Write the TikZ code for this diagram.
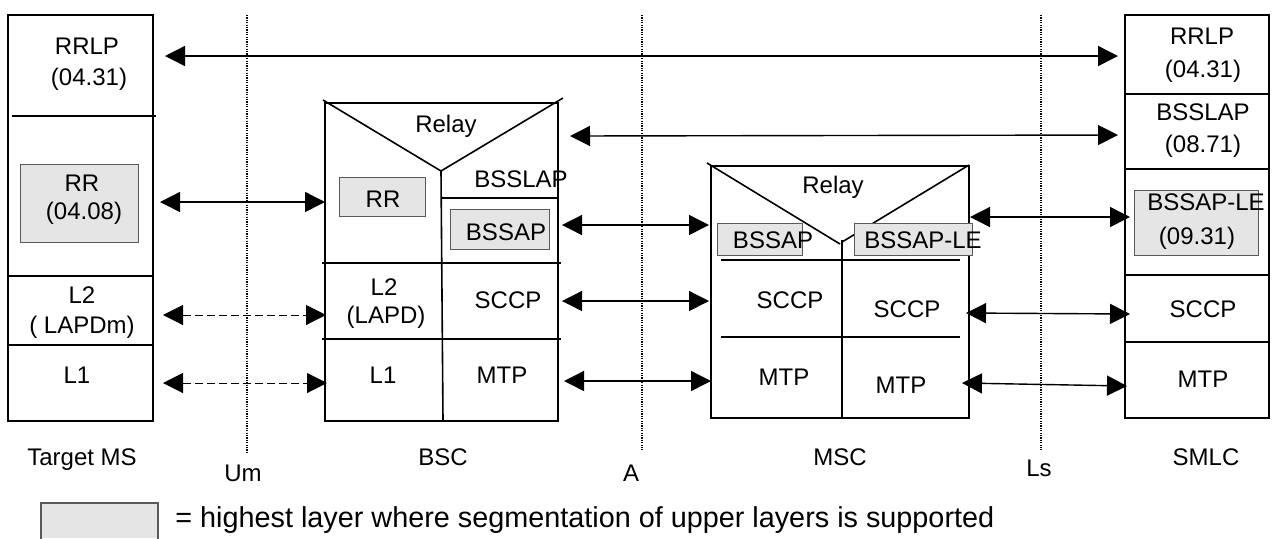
\documentclass[tikz,border=0pt]{standalone}
\usepackage{fontspec}
\setmainfont{Liberation Sans}
\usetikzlibrary{arrows.meta}
\begin{document}
\begin{tikzpicture}[x=0.5pt,y=-0.5pt,
  font=\fontsize{12pt}{14pt}\selectfont,
  lbl/.style={inner sep=0pt,anchor=base},
  frame/.style={draw,line width=0.8pt},
  seg/.style={fill=black!10,draw=black!65,line width=0.5pt},
  link/.style={line width=0.7pt,{Triangle[length=10pt,width=10pt]}-{Triangle[length=10pt,width=10pt]}},
  dlink/.style={link,line width=0.5pt,dash pattern=on 4pt off 2pt},
  iface/.style={line width=0.8pt,dash pattern=on 0.6pt off 0.6pt}]
\useasboundingbox (0,0) rectangle (1273,538);

% interface lines
\coordinate (um-t) at (247,15); \coordinate (um-b) at (247,453);
\coordinate (a-t) at (642,15);  \coordinate (a-b) at (642,450);
\coordinate (ls-t) at (1041,15); \coordinate (ls-b) at (1041,450);
\draw[iface] (um-t) -- (um-b);
\draw[iface] (a-t) -- (a-b);
\draw[iface] (ls-t) -- (ls-b);

% Target MS
\draw[frame] (8,15) rectangle (153,421);
\draw[frame] (12,116) -- (156,116);
\draw[frame] (8,276) -- (153,276);
\draw[frame] (8,345) -- (153,345);
\draw[seg] (20,164) rectangle (138,242);
\node[lbl] (ms-rrlp) at (87,54) {RRLP};
\node[lbl] (ms-rrlpn) at (89,85) {(04.31)};
\node[lbl] (ms-rr) at (82,191) {RR};
\node[lbl] (ms-rrn) at (84,219) {(04.08)};
\node[lbl] (ms-l2) at (82,303) {L2};
\node[lbl] (ms-l2n) at (82,333) {( LAPDm)};
\node[lbl] (ms-l1) at (77,383) {L1};

% BSC
\draw[frame] (325,103) -- (325,421) -- (558,421) -- (558,103) -- cycle;
\draw[frame] (323,100) -- (441,171) -- (563,98);
\draw[frame] (441,171) -- (443,421);
\draw[frame] (442,198) -- (558,198);
\draw[frame] (322,263) -- (561,263);
\draw[frame] (322,339) -- (561,339);
\draw[seg] (339,177) rectangle (425,216);
\draw[seg] (450,209) rectangle (549,249);
\node[lbl] (bsc-relay) at (446,132) {Relay};
\node[lbl] (bsc-bsslap) at (521,187) {BSSLAP};
\node[lbl] (bsc-rr) at (383,207) {RR};
\node[lbl] (bsc-bssap) at (506,240) {BSSAP};
\node[lbl] (bsc-l2) at (384,295) {L2};
\node[lbl] (bsc-l2n) at (386,323) {(LAPD)};
\node[lbl] (bsc-sccp) at (508,308) {SCCP};
\node[lbl] (bsc-l1) at (383,383) {L1};
\node[lbl] (bsc-mtp) at (502,383) {MTP};

% MSC
\draw[frame] (711,166) rectangle (969,418);
\draw[frame] (707,163) -- (840,244);
\draw[frame] (842,242) -- (969,165);
\draw[frame] (842,240) -- (842,418);
\draw[frame] (721,260) -- (960,260);
\draw[frame] (721,337) -- (960,337);
\draw[seg] (717,223) rectangle (802,255);
\draw[seg] (854,223) rectangle (972,255);
\node[lbl] (msc-relay) at (833,193) {Relay};
\node[lbl] (msc-bssap) at (773,248) {BSSAP};
\node[lbl] (msc-bssaple) at (923,248) {BSSAP-LE};
\node[lbl] (msc-sccp1) at (790,308) {SCCP};
\node[lbl] (msc-sccp2) at (907,317) {SCCP};
\node[lbl] (msc-mtp1) at (784,385) {MTP};
\node[lbl] (msc-mtp2) at (901,393) {MTP};

% SMLC
\draw[frame] (1125,15) rectangle (1269,418);
\draw[frame] (1125,94) -- (1269,94);
\draw[frame] (1125,169) -- (1269,169);
\draw[frame] (1125,275) -- (1269,275);
\draw[frame] (1125,342) -- (1269,342);
\draw[seg] (1134,190) rectangle (1258,255);
\node[lbl] (sm-rrlp) at (1202,44) {RRLP};
\node[lbl] (sm-rrlpn) at (1203,77) {(04.31)};
\node[lbl] (sm-bsslap) at (1203,120) {BSSLAP};
\node[lbl] (sm-bsslapn) at (1203,152) {(08.71)};
\node[lbl] (sm-bssaple) at (1206,210) {BSSAP-LE};
\node[lbl] (sm-bssaplen) at (1197,244) {(09.31)};
\node[lbl] (sm-sccp) at (1203,317) {SCCP};
\node[lbl] (sm-mtp) at (1203,387) {MTP};

% connectors
\coordinate (c1a) at (165,56);  \coordinate (c1b) at (1118,56);
\coordinate (c2a) at (160,202); \coordinate (c2b) at (325,202);
\coordinate (c3a) at (163,315); \coordinate (c3b) at (326,315);
\coordinate (c4a) at (163,383); \coordinate (c4b) at (327,383);
\coordinate (c5a) at (570,136); \coordinate (c5b) at (1118,135);
\coordinate (c6a) at (562,225); \coordinate (c6b) at (709,225);
\coordinate (c7a) at (562,301); \coordinate (c7b) at (709,301);
\coordinate (c8a) at (564,381); \coordinate (c8b) at (711,381);
\coordinate (c9a) at (970,217); \coordinate (c9b) at (1130,217);
\coordinate (c10a) at (966,313); \coordinate (c10b) at (1130,314);
\coordinate (c11a) at (962,383); \coordinate (c11b) at (1127,386);
\draw[link] (c1a) -- (c1b);
\draw[link] (c2a) -- (c2b);
\draw[dlink] (c3a) -- (c3b);
\draw[dlink] (c4a) -- (c4b);
\draw[link] (c5a) -- (c5b);
\draw[link] (c6a) -- (c6b);
\draw[link] (c7a) -- (c7b);
\draw[link] (c8a) -- (c8b);
\draw[link] (c9a) -- (c9b);
\draw[link] (c10a) -- (c10b);
\draw[link] (c11a) -- (c11b);

% bottom labels
\node[lbl] (l-ms) at (82,465) {Target MS};
\node[lbl] (l-um) at (243,481) {Um};
\node[lbl] (l-bsc) at (443,465) {BSC};
\node[lbl] (l-a) at (631,481) {A};
\node[lbl] (l-msc) at (840,465) {MSC};
\node[lbl] (l-ls) at (1039,476) {Ls};
\node[lbl] (l-smlc) at (1206,465) {SMLC};

% legend
\fill[black!10] (41,503) rectangle (158,538);
\draw[black!65,line width=0.6pt] (41,540) -- (41,503) -- (158,503) -- (158,540);
\node[lbl,anchor=base west,font=\fontsize{14.4pt}{16pt}\selectfont] (legend) at (175,527) {= highest layer where segmentation of upper layers is supported};
\end{tikzpicture}
\end{document}
